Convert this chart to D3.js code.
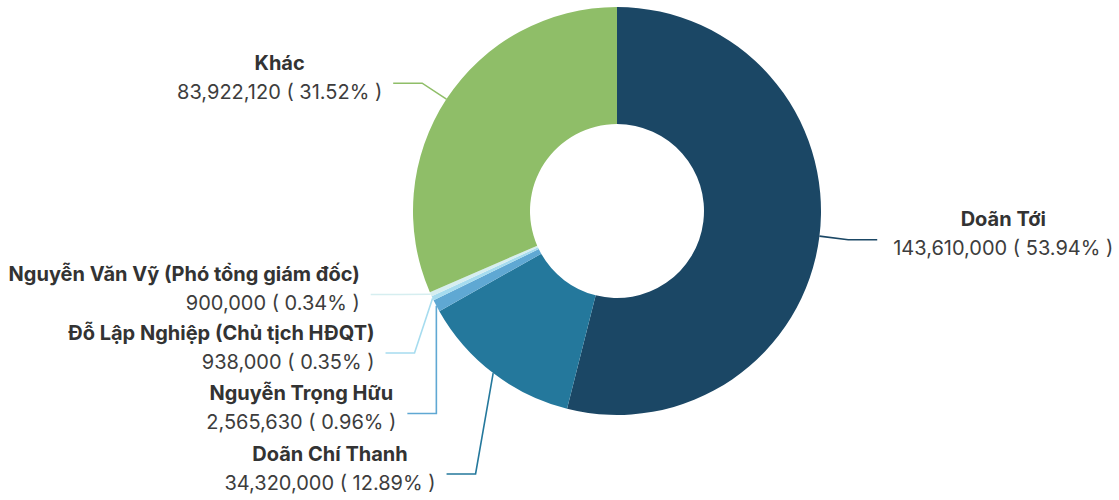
<!DOCTYPE html>
<html>
<head>
<meta charset="utf-8">
<script src="https://cdn.jsdelivr.net/npm/d3@7"></script>
<style>
  html, body { margin: 0; padding: 0; background: #fff; }
  svg { display: block; }
  text { font-family: Inter, "Noto Sans", sans-serif; }
</style>
</head>
<body>
<svg id="chart" width="1119" height="500"></svg>
<script>
// ---- data ----
const categories = [
  "Doãn Tới",
  "Doãn Chí Thanh",
  "Nguyễn Trọng Hữu",
  "Đỗ Lập Nghiệp (Chủ tịch HĐQT)",
  "Nguyễn Văn Vỹ (Phó tổng giám đốc)",
  "Khác"
];
const values = [143610000, 34320000, 2565630, 938000, 900000, 83922120];
const colors = ["#1b4765", "#24789c", "#5fa8d3", "#a6dcef", "#d6eef0", "#8fbe68"];

// ---- layout (label placement after overlap avoidance) ----
const labelYOverride = [null, 474, 413.5, 353, 294.5, null];
const lineLen1 = [29, 29, 0, 20, 34, 29];
const lineLen2 = 29;
const labelGapLeft = 11;
const labelGapRight = 16;

const W = 1119, H = 500;
const cx = 617, cy = 211, rOuter = 204, rInner = 87;

const svg = d3.select("#chart");
const g = svg.append("g").attr("transform", `translate(${cx},${cy})`);

const data = categories.map((c, i) => ({ name: c, value: values[i], color: colors[i], i }));
const total = d3.sum(values);
const pie = d3.pie().value(d => d.value).sort(null).startAngle(0).endAngle(2 * Math.PI);
const arcs = pie(data);
const arc = d3.arc().innerRadius(rInner).outerRadius(rOuter);

g.selectAll("path.slice")
  .data(arcs)
  .join("path")
  .attr("class", "slice")
  .attr("d", arc)
  .attr("fill", d => d.data.color);

const fmt = d3.format(",");
const pt = (a, r) => [Math.sin(a) * r, -Math.cos(a) * r];

arcs.forEach(d => {
  const i = d.data.i;
  const mid = (d.startAngle + d.endAngle) / 2;
  const right = Math.sin(mid) > 0;
  const p0 = pt(mid, rOuter);
  const p1r = pt(mid, rOuter + lineLen1[i]);
  const ly = labelYOverride[i] != null ? labelYOverride[i] - cy : p1r[1];
  const p1 = [p1r[0], ly];
  const p2 = [p1[0] + (right ? lineLen2 : -lineLen2), ly];

  g.append("polyline")
    .attr("points", [p0, p1, p2].map(p => p.join(",")).join(" "))
    .attr("fill", "none")
    .attr("stroke", d.data.color)
    .attr("stroke-width", 1.6);

  const pct = (d.data.value / total * 100).toFixed(2);
  const nameT = g.append("text")
    .attr("font-size", 20)
    .attr("font-weight", 700)
    .attr("fill", "#333")
    .attr("y", ly - 13.5)
    .text(d.data.name);
  const valT = g.append("text")
    .attr("font-size", 20)
    .attr("fill", "#3d3d3d")
    .attr("y", ly + 15.5)
    .text(`${fmt(d.data.value)} ( ${pct}% )`);

  const nw = nameT.node().getComputedTextLength();
  const vw = valT.node().getComputedTextLength();
  const bw = Math.max(nw, vw);
  const left = right ? p2[0] + labelGapRight : p2[0] - labelGapLeft - bw;
  nameT.attr("x", left + bw / 2).attr("text-anchor", "middle");
  valT.attr("x", left + bw).attr("text-anchor", "end");
});
</script>
</body>
</html>
